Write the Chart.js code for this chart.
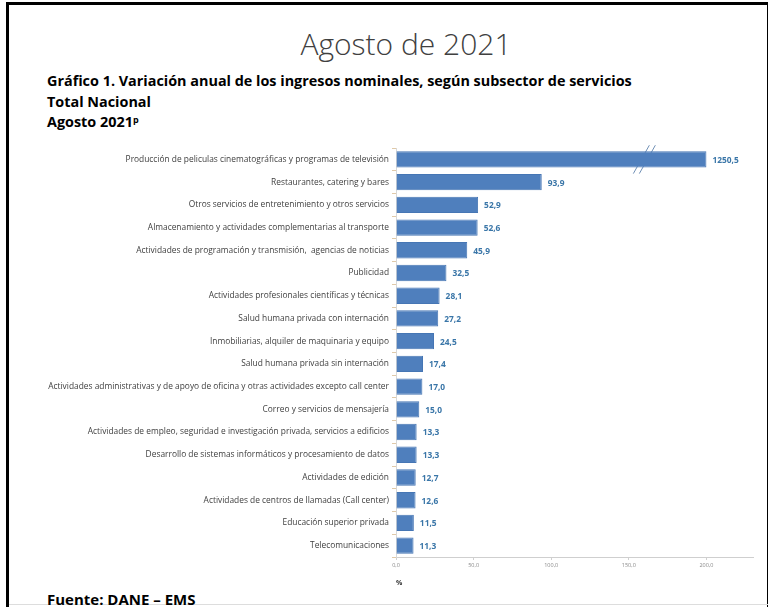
<!DOCTYPE html>
<html>
<head>
<meta charset="utf-8">
<script src="https://cdn.jsdelivr.net/npm/chart.js@4.4.1/dist/chart.umd.min.js"></script>
<style>
  html, body { margin: 0; padding: 0; background: #fff; }
  body { width: 768px; height: 607px; position: relative; overflow: hidden; font-family: "Open Sans", sans-serif; }
  #frame { position: absolute; left: 6px; top: 2px; width: 758px; height: 620px; border-left: 3px solid #000; border-top: 3px solid #000; border-right: 2px solid #000; }
  #bottomLine { position: absolute; left: 9px; right: 0; top: 604px; height: 1px; background: #ddd; }
  #title { position: absolute; left: 0; width: 812px; top: 23px; text-align: center; font-family: "Open Sans", sans-serif; font-weight: 300; font-size: 30px; color: #404040; }
  .sub { position: absolute; left: 47px; font-family: "Open Sans", sans-serif; font-weight: bold; font-size: 14.4px; color: #000; }
  #s1 { top: 71px; }
  #s2 { top: 92px; }
  #s3 { top: 112px; }
  #s3 sup { font-size: 9px; vertical-align: 4px; }
  #fuente { position: absolute; left: 47px; top: 589px; font-family: "Open Sans", sans-serif; font-weight: bold; font-size: 15px; color: #000; }
  #wrap { position: absolute; left: 0; top: 140px; width: 768px; height: 451px; }
</style>
</head>
<body>
<div id="frame"></div>
<div id="bottomLine"></div>
<div id="title">Agosto de 2021</div>
<div class="sub" id="s1">Gráfico 1. Variación anual de los ingresos nominales, según subsector de servicios</div>
<div class="sub" id="s2">Total Nacional</div>
<div class="sub" id="s3">Agosto 2021<sup>p</sup></div>
<div id="fuente">Fuente: DANE – EMS</div>
<div id="wrap"><canvas id="myChart"></canvas></div>

<script>
// subsectores de servicios
let categories = [
  "Producción de peliculas cinematográficas y programas de televisión",
  "Restaurantes, catering y bares",
  "Otros servicios de entretenimiento y otros servicios",
  "Almacenamiento y actividades complementarias al transporte",
  "Actividades de programación y transmisión,  agencias de noticias",
  "Publicidad",
  "Actividades profesionales científicas y técnicas",
  "Salud humana privada con internación",
  "Inmobiliarias, alquiler de maquinaria y equipo",
  "Salud humana privada sin internación",
  "Actividades administrativas y de apoyo de oficina y otras actividades excepto call center",
  "Correo y servicios de mensajería",
  "Actividades de empleo, seguridad e investigación privada, servicios a edificios",
  "Desarrollo de sistemas informáticos y procesamiento de datos",
  "Actividades de edición",
  "Actividades de centros de llamadas (Call center)",
  "Educación superior privada",
  "Telecomunicaciones"
];

// variacion anual (%)
let values = [1250.5, 93.9, 52.9, 52.6, 45.9, 32.5, 28.1, 27.2, 24.5, 17.4, 17.0, 15.0, 13.3, 13.3, 12.7, 12.6, 11.5, 11.3];

let tickValues = [0, 50, 100, 150, 200];
let axisMax = 230;
let breakAt = 200;   // bars above this are cut (axis break)
let breakMark = 160; // where the // is drawn

let shown = values.map(function (v) { return Math.min(v, breakAt); });

function fmt(v, d) {
  return v.toFixed(d).replace('.', ',');
}

// numbers at the end of each bar
let valueLabels = {
  id: 'valueLabels',
  afterDatasetsDraw: function (chart) {
    let ctx = chart.ctx;
    let meta = chart.getDatasetMeta(0);
    ctx.save();
    ctx.font = 'bold 8.4px "Open Sans", sans-serif';
    ctx.fillStyle = '#3a76a8';
    ctx.textBaseline = 'middle';
    meta.data.forEach(function (bar, i) {
      ctx.fillText(fmt(values[i], 1), bar.x + 6, bar.y + 1);
    });
    ctx.restore();
  }
};

// the // break on the first bar
let axisBreak = {
  id: 'axisBreak',
  beforeDatasetsDraw: function (chart) {
    let ctx = chart.ctx;
    let bar = chart.getDatasetMeta(0).data[0];
    let x = chart.scales.x.getPixelForValue(breakMark);
    let h = bar.height;
    ctx.save();
    ctx.strokeStyle = '#6f8fb5';
    ctx.lineWidth = 1;
    [-3, 3].forEach(function (off) {
      ctx.beginPath();
      ctx.moveTo(x + off + 8, bar.y - h / 2 - 6);
      ctx.lineTo(x + off - 8, bar.y + h / 2 + 6);
      ctx.stroke();
    });
    ctx.restore();
  }
};

let ctx = document.getElementById('myChart');
let chart = new Chart(ctx, {
  type: 'bar',
  data: {
    labels: categories,
    datasets: [{
      data: shown,
      backgroundColor: '#4f7fbd',
      borderColor: '#4676b4',
      borderWidth: 1,
      barPercentage: 0.72,
      categoryPercentage: 1
    }]
  },
  options: {
    indexAxis: 'y',
    responsive: true,
    maintainAspectRatio: false,
    animation: false,
    layout: { padding: { top: 6, right: 15, bottom: 0, left: 0 } },
    plugins: { legend: { display: false }, tooltip: { enabled: false } },
    scales: {
      x: {
        min: 0,
        max: axisMax,
        afterBuildTicks: function (scale) {
          scale.ticks = tickValues.map(function (v) { return { value: v }; });
        },
        afterFit: function (scale) { scale.height = 34; },
        grid: { drawOnChartArea: false, color: '#d0d0d0', tickLength: 3 },
        border: { color: '#cfcfcf', width: 1 },
        ticks: {
          font: { size: 5.5, family: '"Open Sans", sans-serif' },
          color: '#888',
          padding: 2,
          maxRotation: 0,
          callback: function (v) { return fmt(v, 1); }
        },
        title: {
          display: true,
          text: '%',
          align: 'start',
          color: '#333',
          font: { size: 7, weight: 'bold', family: '"Open Sans", sans-serif' },
          padding: { top: 4, bottom: 4 }
        }
      },
      y: {
        afterFit: function (scale) { scale.width = 396; },
        grid: { drawOnChartArea: false, offset: true, color: '#e0c9a8', tickLength: 4 },
        border: { color: '#d8d8d8', width: 1 },
        ticks: {
          font: { size: 8.4, family: '"Open Sans", sans-serif' },
          color: '#404040',
          padding: 3,
          autoSkip: false
        }
      }
    }
  },
  plugins: [axisBreak, valueLabels]
});
</script>
</body>
</html>
